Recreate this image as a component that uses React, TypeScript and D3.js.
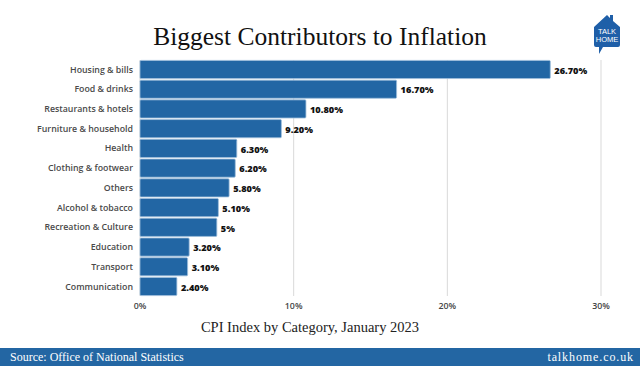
import React from 'react';
import * as d3 from 'd3';

const categories = [
  'Housing & bills',
  'Food & drinks',
  'Restaurants & hotels',
  'Furniture & household',
  'Health',
  'Clothing & footwear',
  'Others',
  'Alcohol & tobacco',
  'Recreation & Culture',
  'Education',
  'Transport',
  'Communication',
];
const values = [26.7, 16.7, 10.8, 9.2, 6.3, 6.2, 5.8, 5.1, 5, 3.2, 3.1, 2.4];
const valueLabels = ['26.70%', '16.70%', '10.80%', '9.20%', '6.30%', '6.20%', '5.80%', '5.10%', '5%', '3.20%', '3.10%', '2.40%'];
const ticks = [0, 10, 20, 30];

const W = 640;
const H = 366;
const margin = { top: 60, right: 39, bottom: 70, left: 140 };
const barColor = '#2266a4';

const App = () => {
  const x = d3.scaleLinear().domain([0, 30]).range([margin.left, W - margin.right]);
  const y = d3
    .scaleBand()
    .domain(categories)
    .range([margin.top, H - margin.bottom])
    .paddingInner(0.08)
    .paddingOuter(0.02);

  return (
    <svg width={W} height={H} style={{ position: 'absolute', left: 0, top: 0, background: '#fff' }}>
      <rect width={W} height={H} fill="#fff" />
      <text x={320} y={45} textAnchor="middle" fontFamily="Liberation Serif, serif" fontSize={25.5} fill="#111">
        Biggest Contributors to Inflation
      </text>

      {/* logo */}
      <g transform="translate(592,12)">
        <path d="M2,15 L15,3 L18,6 L18,3 L21,3 L21,9 L28,15 L28,33 Q28,35 26,35 L11,35 L7,42 L7,35 L4,35 Q2,35 2,33 Z" fill="#1f5fa8" />
        <text x={15} y={22} textAnchor="middle" fontFamily="Liberation Sans Narrow, Liberation Sans, sans-serif" fontSize={7.5} fill="#fff">TALK</text>
        <text x={15} y={30} textAnchor="middle" fontFamily="Liberation Sans Narrow, Liberation Sans, sans-serif" fontSize={7.5} fill="#fff">HOME</text>
      </g>

      {ticks.map((t) => (
        <line key={t} x1={x(t)} x2={x(t)} y1={margin.top} y2={H - margin.bottom} stroke="#d9d9d9" strokeWidth={1} />
      ))}

      {categories.map((c, i) => (
        <g key={c}>
          <rect
            x={x(0)}
            y={y(c)!}
            width={x(values[i]) - x(0)}
            height={y.bandwidth()}
            fill={barColor}
            stroke="#9fbfdc"
            strokeWidth={0.8}
            rx={1}
          />
          <text
            x={margin.left - 7}
            y={y(c)! + y.bandwidth() / 2}
            dy="0.35em"
            textAnchor="end"
            fontFamily="Open Sans, sans-serif"
            fontWeight={600}
            fontSize={8.8}
            fill="#4a4a4a"
          >
            {c}
          </text>
          <text
            x={x(values[i]) + 4}
            y={y(c)! + y.bandwidth() / 2 + 1}
            dy="0.35em"
            fontFamily="Open Sans, sans-serif"
            fontWeight={800}
            fontSize={9.2}
            fill="#111"
          >
            {valueLabels[i]}
          </text>
        </g>
      ))}

      {ticks.map((t) => (
        <text key={t} x={x(t)} y={306} dy="0.35em" textAnchor="middle" fontFamily="Open Sans, sans-serif" fontWeight={600} fontSize={8.8} fill="#444">
          {t}%
        </text>
      ))}

      <text x={310} y={332} textAnchor="middle" fontFamily="Liberation Serif, serif" fontSize={14.5} fill="#222">
        CPI Index by Category, January 2023
      </text>

      <rect x={0} y={348} width={W} height={18} fill="#2366a3" />
      <text x={10} y={361} fontFamily="Liberation Serif, serif" fontSize={12} fill="#fff">
        Source: Office of National Statistics
      </text>
      <text x={634} y={361} textAnchor="end" fontFamily="Liberation Serif, serif" fontSize={12} letterSpacing={0.9} fill="#fff">
        talkhome.co.uk
      </text>
    </svg>
  );
};

export default App;
